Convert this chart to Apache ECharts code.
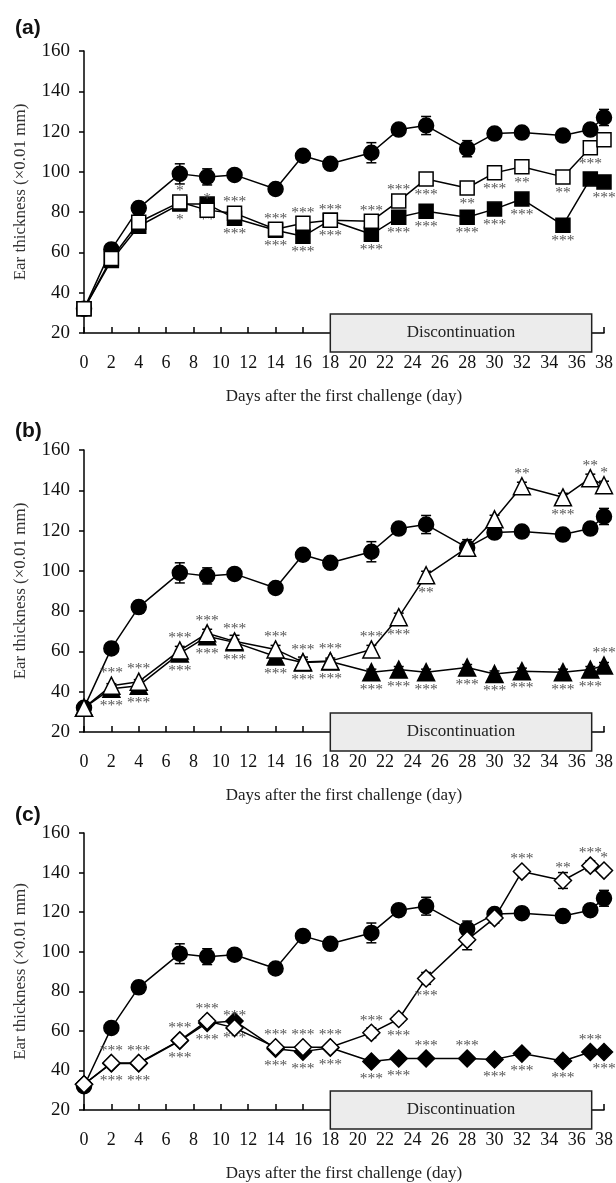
<!DOCTYPE html>
<html>
<head>
<meta charset="utf-8">
<script src="https://cdn.jsdelivr.net/npm/echarts@6/dist/echarts.min.js"></script>
<style>
html,body{margin:0;padding:0;background:#fff;}
#chart{width:616px;height:1183px;}
</style>
</head>
<body>
<div id="chart"></div>
<script>
// sampling days (x)
var days = [0,2,4,7,9,11,14,16,18,21,23,25,28,30,32,35,37,38];

// control group (filled circle), same in all panels
var control    = [32,61.5,82,99,97.5,98.5,91.5,108,104,109.5,121,123,111.5,119,119.5,118,121,127];
var controlErr = [0.5,1,3,5,4,1.5,2.5,1.5,1.5,5,1.5,4.5,4,2,2,2,2,4];

// panel (a) squares
var sqFilled    = [32,56,73,84,84,77,71,68,76,69,77.5,80.5,77.5,81.5,86.5,73.5,96.5,95];
var sqFilledErr = [0,1,1,1.5,2,1.5,1.5,1.5,1,1.5,1.5,1.5,1.5,1.5,1.5,1.5,2,2];
var sqOpen      = [32,57,75,85,81,79.5,71.5,74.5,76,75.5,85.5,96.5,92,99.5,102.5,97.5,112,116];
var sqOpenErr   = [0,1,1,2,2,1.5,1.5,1.5,1,1.5,1.5,2,2,1.5,1.5,2,2.5,3];
var sqFilledSig = ['','','','*','**','***','***','***','***','***','***','***','***','***','***','***','','***'];
var sqFilledPos = ['','','','b','b','b','b','b','b','b','b','b','b','b','b','b','','b'];
var sqOpenSig   = ['','','','*','*','***','***','***','***','***','***','***','**','***','**','**','***',''];
var sqOpenPos   = ['','','','t','t','t','t','t','t','t','t','b','b','b','b','b','b',''];

// panel (b) triangles
var triFilled    = [32,41.5,43,59,67.5,64.5,57.5,54.5,55,49.7,51,49.7,52,48.8,50.2,49.7,51,53];
var triFilledErr = [0,1,1,1.5,1.5,1.5,1.5,1.5,1,1.5,1.5,1.5,1.5,1.5,1.5,1.5,1.5,1.5];
var triOpen      = [32,43,45,60.5,69,65,61,54.7,55.2,61,77,97.8,111.5,125.6,142,136.5,146,142.5];
var triOpenErr   = [0,1,1,2,2,3,2,2.5,1.5,2,2,2,2,2,2,2,2,2];
var triFilledSig = ['','***','***','***','***','***','***','***','***','***','***','***','***','***','***','***','***','***'];
var triFilledPos = ['','b','b','b','b','b','b','b','b','b','b','b','b','b','b','b','b','t'];
var triOpenSig   = ['','***','***','***','***','***','***','***','***','***','***','**','','','**','***','**','*'];
var triOpenPos   = ['','t','t','t','t','t','t','t','t','t','b','b','','','t','b','t','t'];

// panel (c) diamonds
var diaFilled    = [33,43.5,43.5,55,64,65,51,49.5,51.5,44.5,46,46,46,45.5,48.5,44.8,49.3,49.3];
var diaFilledErr = [0,1,1,1.5,1.5,1.5,1.5,1.5,1,1.5,1.5,1.5,1.5,1.5,1.5,1.5,1.5,1.5];
var diaOpen      = [33,43.8,43.8,55.2,65,61.5,51.7,51.7,51.7,59,66,86.5,106,117,140.5,136,143.5,141];
var diaOpenErr   = [0,1,1,1.5,2,2,1.5,1.5,1.5,2.5,2,3,5,2.5,2,4,2.5,2];
var diaFilledSig = ['','***','***','***','***','***','***','***','***','***','***','***','***','***','***','***','***','***'];
var diaFilledPos = ['','b','b','b','b','b','b','b','b','b','b','t','t','b','b','b','t','b'];
var diaOpenSig   = ['','***','***','***','***','***','***','***','***','***','***','***','','','***','**','***','*'];
var diaOpenPos   = ['','t','t','t','t','t','t','t','t','t','b','b','','','t','t','t','t'];

var panelLetters = ['(a)','(b)','(c)'];
var yName = 'Ear thickness (\u00d70.01 mm)';
var xName = 'Days after the first challenge (day)';
var boxText = 'Discontinuation';
var boxStart = 18, boxEnd = 37.1;

var serif = '"Liberation Serif","Times New Roman",serif';
var gridTops = [51, 450, 833];
var gridH = 282;

function pts(vals, sig, pos){
  var out = [];
  for(var i=0;i<days.length;i++){
    var item = {value:[days[i], vals[i]]};
    if(sig && sig[i]){
      item.label = {
        show:true, formatter:sig[i],
        position: pos[i]=='t' ? 'top' : 'bottom',
        distance: pos[i]=='t' ? -5 : 0
      };
    }
    out.push(item);
  }
  return out;
}
function errPts(vals, err){
  var out = [];
  for(var i=0;i<days.length;i++) out.push([days[i], vals[i], err[i]]);
  return out;
}
function errRender(params, api){
  var x = api.value(0), y = api.value(1), e = api.value(2);
  var hi = api.coord([x, y+e]), lo = api.coord([x, y-e]);
  var w = 5, st = {stroke:'#000', lineWidth:1.5};
  return {type:'group', children:[
    {type:'line', shape:{x1:hi[0],y1:hi[1],x2:lo[0],y2:lo[1]}, style:st},
    {type:'line', shape:{x1:hi[0]-w,y1:hi[1],x2:hi[0]+w,y2:hi[1]}, style:st},
    {type:'line', shape:{x1:lo[0]-w,y1:lo[1],x2:lo[0]+w,y2:lo[1]}, style:st}
  ]};
}
function errSeries(idx, vals, err){
  return {type:'custom', xAxisIndex:idx, yAxisIndex:idx, renderItem:errRender,
    data:errPts(vals, err), z:1, silent:true, clip:false};
}
function lineSeries(idx, vals, symbol, size, open, sig, pos, z){
  return {
    type:'line', xAxisIndex:idx, yAxisIndex:idx, data:pts(vals, sig, pos),
    symbol:symbol, symbolSize:size, showAllSymbol:true, clip:false, z:z,
    lineStyle:{color:'#000', width:1.5},
    itemStyle:{color: open ? '#fff' : '#000', borderColor:'#000', borderWidth:1.5},
    label:{color:'#555', fontSize:15.5, fontFamily:serif},
    emphasis:{disabled:true}, animation:false
  };
}

var grids = [], xAxes = [], yAxes = [], titles = [], series = [];
for(var p=0;p<3;p++){
  grids.push({left:84, right:11, top:gridTops[p], height:gridH});
  xAxes.push({
    type:'value', gridIndex:p, min:0, max:38, interval:2,
    name:xName, nameLocation:'middle', nameGap:55,
    nameTextStyle:{fontFamily:serif, fontSize:17, color:'#222'},
    axisLine:{lineStyle:{color:'#000', width:1.5}},
    axisTick:{inside:true, length:6, lineStyle:{color:'#000', width:1.5}},
    axisLabel:{fontFamily:serif, fontSize:18, color:'#111', margin:21},
    splitLine:{show:false}
  });
  yAxes.push({
    type:'value', gridIndex:p, min:20, max:160, interval:20,
    name:yName, nameLocation:'middle', nameGap:55,
    nameTextStyle:{fontFamily:serif, fontSize:17, color:'#333'},
    axisLine:{show:true, lineStyle:{color:'#000', width:1.5}},
    axisTick:{show:true, length:5, lineStyle:{color:'#000', width:1.5}},
    axisLabel:{fontFamily:serif, fontSize:19, color:'#111', margin:14},
    splitLine:{show:false}
  });
  titles.push({text:panelLetters[p], left:10, top:[13,416,800][p],
    textStyle:{fontFamily:'"Liberation Sans",Arial,sans-serif', fontWeight:'bold', fontSize:21, color:'#111'}});
}

// panel a
series.push(errSeries(0, control, controlErr));
series.push(lineSeries(0, control, 'circle', 15, false, null, null, 2));
series.push(errSeries(0, sqFilled, sqFilledErr));
series.push(lineSeries(0, sqFilled, 'rect', 14, false, sqFilledSig, sqFilledPos, 3));
series.push(errSeries(0, sqOpen, sqOpenErr));
series.push(lineSeries(0, sqOpen, 'rect', 14, true, sqOpenSig, sqOpenPos, 4));
// panel b
series.push(errSeries(1, control, controlErr));
series.push(lineSeries(1, control, 'circle', 15, false, null, null, 2));
series.push(errSeries(1, triFilled, triFilledErr));
series.push(lineSeries(1, triFilled, 'triangle', 17, false, triFilledSig, triFilledPos, 3));
series.push(errSeries(1, triOpen, triOpenErr));
series.push(lineSeries(1, triOpen, 'triangle', 17, true, triOpenSig, triOpenPos, 4));
// panel c
series.push(errSeries(2, control, controlErr));
series.push(lineSeries(2, control, 'circle', 15, false, null, null, 2));
series.push(errSeries(2, diaFilled, diaFilledErr));
series.push(lineSeries(2, diaFilled, 'diamond', 17, false, diaFilledSig, diaFilledPos, 3));
series.push(errSeries(2, diaOpen, diaOpenErr));
series.push(lineSeries(2, diaOpen, 'diamond', 17, true, diaOpenSig, diaOpenPos, 4));

var chart = echarts.init(document.getElementById('chart'), null, {renderer:'canvas'});
chart.setOption({
  backgroundColor:'#fff',
  animation:false,
  title:titles,
  grid:grids,
  xAxis:xAxes,
  yAxis:yAxes,
  series:series
});

// discontinuation boxes placed through the axis scales
var graphics = [];
for(var g=0;g<3;g++){
  var a = chart.convertToPixel({gridIndex:g}, [boxStart, 20]);
  var b = chart.convertToPixel({gridIndex:g}, [boxEnd, 20]);
  graphics.push({type:'rect', z:100,
    shape:{x:a[0], y:a[1]-19, width:b[0]-a[0], height:38},
    style:{fill:'#ececec', stroke:'#222', lineWidth:1.5}});
  graphics.push({type:'text', z:101, x:(a[0]+b[0])/2, y:a[1],
    style:{text:boxText, fontFamily:serif, fontSize:17, fill:'#222', align:'center', verticalAlign:'middle'}});
}
chart.setOption({graphic:graphics});
</script>
</body>
</html>
